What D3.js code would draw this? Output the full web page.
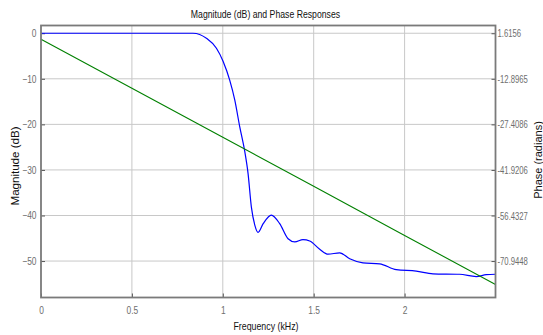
<!DOCTYPE html>
<html>
<head>
<meta charset="utf-8">
<script src="https://cdn.jsdelivr.net/npm/d3@7"></script>
<style>
	body { margin: 0; background: #fff; }
	svg { display: block; font-family: "Liberation Sans", Arial, sans-serif; }
</style>
</head>
<body>
<svg id="chart" width="543" height="335"></svg>
<script>
// Magnitude response
const freqMag = [0, 0.836, 0.91, 0.965, 1.002, 1.038, 1.066, 1.093, 1.121, 1.139, 1.157, 1.176, 1.194, 1.222, 1.267, 1.313, 1.359, 1.396, 1.441, 1.478, 1.533, 1.579, 1.643, 1.698, 1.771, 1.863, 1.954, 2.064, 2.156, 2.302, 2.394, 2.449, 2.5];
const magDb = [0, 0, -1.1, -3.3, -6.2, -10.3, -14.7, -20.5, -26, -30.8, -38.1, -42.1, -43.7, -41.8, -39.9, -41.8, -45.1, -45.8, -45.3, -45.6, -47.4, -48.5, -48.2, -49.5, -50.4, -50.6, -51.9, -52.2, -52.8, -52.9, -53.4, -53.0, -52.9];

// Phase response (linear)
const freqPhase = [0, 0.5, 1, 1.5, 2, 2.5];
const phaseRad = [-0.3, -15.9, -31.5, -47.1, -62.8, -78.4];

// Ticks
const xTicks = [0, 0.5, 1, 1.5, 2];
const magTicks = [0, -10, -20, -30, -40, -50];
const phaseTicks = [1.6156, -12.8965, -27.4086, -41.9206, -56.4327, -70.9448];

const svg = d3.select("#chart");
const box = { left: 41, right: 495.5, top: 25.5, bottom: 297.5 };

const x = d3.scaleLinear().domain([0, 2.5]).range([box.left, box.right]);
const yMag = d3.scaleLinear().domain([-58.0, 1.7]).range([box.bottom, box.top]);
// phase axis shares the grid: 10 dB <-> 14.5121 rad
const k = (phaseTicks[0] - phaseTicks[1]) / 10;
const yPhase = d3.scaleLinear()
	.domain([phaseTicks[0] + k * -58.0, phaseTicks[0] + k * 1.7])
	.range([box.bottom, box.top]);

const gridColor = "#c8c8c8";
const axisColor = "#7a7a7a";
const labelColor = "#6e6e6e";

// squeeze text horizontally, the original font is a narrow one
function condense(sel, f) {
	sel.each(function (d) {
		const r = typeof f === "function" ? f(d) : f;
		const w = this.getComputedTextLength();
		d3.select(this).attr("textLength", w * r).attr("lengthAdjust", "spacingAndGlyphs");
	});
}

// grid
const grid = svg.append("g");
grid.selectAll("line.v")
	.data(xTicks.slice(1))
	.join("line")
	.attr("class", "v")
	.attr("x1", (d) => x(d)).attr("x2", (d) => x(d))
	.attr("y1", box.top).attr("y2", box.bottom)
	.attr("stroke", gridColor);
grid.selectAll("line.h")
	.data(magTicks)
	.join("line")
	.attr("class", "h")
	.attr("x1", box.left).attr("x2", box.right)
	.attr("y1", (d) => yMag(d)).attr("y2", (d) => yMag(d))
	.attr("stroke", gridColor);

// axes (ticks inside)
const xAxis = svg.append("g")
	.attr("transform", `translate(0,${box.bottom})`)
	.call(d3.axisBottom(x).tickValues(xTicks).tickFormat(d3.format("")).tickSizeInner(-4).tickSizeOuter(0).tickPadding(9));
const leftAxis = svg.append("g")
	.attr("transform", `translate(${box.left},0)`)
	.call(d3.axisLeft(yMag).tickValues(magTicks).tickSizeInner(-4).tickSizeOuter(0).tickPadding(4.5));
const rightAxis = svg.append("g")
	.attr("transform", `translate(${box.right},0)`)
	.call(d3.axisRight(yPhase).tickValues(phaseTicks).tickFormat((d) => d.toString()).tickSizeInner(-4).tickSizeOuter(0).tickPadding(2));

[xAxis, leftAxis, rightAxis].forEach((g) => {
	g.select(".domain").remove();
	g.selectAll(".tick line").attr("stroke", "#555");
	g.selectAll(".tick text")
		.attr("fill", labelColor)
		.style("font-size", g === rightAxis ? "11px" : "10.5px")
		.call(condense, g === rightAxis ? 0.7 : 0.8);
});

// lines
const magLine = d3.line()
	.x((d, i) => x(freqMag[i]))
	.y((d) => yMag(d))
	.curve(d3.curveMonotoneX);
svg.append("path")
	.attr("d", magLine(magDb))
	.attr("fill", "none")
	.attr("stroke", "#0000ff")
	.attr("stroke-width", 1.2);

const phaseLine = d3.line()
	.x((d, i) => x(freqPhase[i]))
	.y((d) => yPhase(d));
svg.append("path")
	.attr("d", phaseLine(phaseRad))
	.attr("fill", "none")
	.attr("stroke", "#008000")
	.attr("stroke-width", 1.1);

// frame
svg.append("rect")
	.attr("x", box.left).attr("y", box.top)
	.attr("width", box.right - box.left).attr("height", box.bottom - box.top)
	.attr("fill", "none")
	.attr("stroke", axisColor)
	.attr("stroke-width", 1.8);

// titles
const titles = [
	{ text: "Magnitude (dB) and Phase Responses", t: "translate(265.5,17.5)", f: 0.79 },
	{ text: "Frequency (kHz)", t: "translate(266,330)", f: 0.8 },
	{ text: "Magnitude (dB)", t: "translate(18.5,166) rotate(-90)", f: 1.05 },
	{ text: "Phase (radians)", t: "translate(542,160) rotate(-90)", f: 1.0 },
];
svg.append("g")
	.selectAll("text")
	.data(titles)
	.join("text")
	.attr("transform", (d) => d.t)
	.attr("text-anchor", "middle")
	.style("font-size", "11px")
	.attr("fill", "#111")
	.text((d) => d.text)
	.call(condense, (d) => d.f);
</script>
</body>
</html>
